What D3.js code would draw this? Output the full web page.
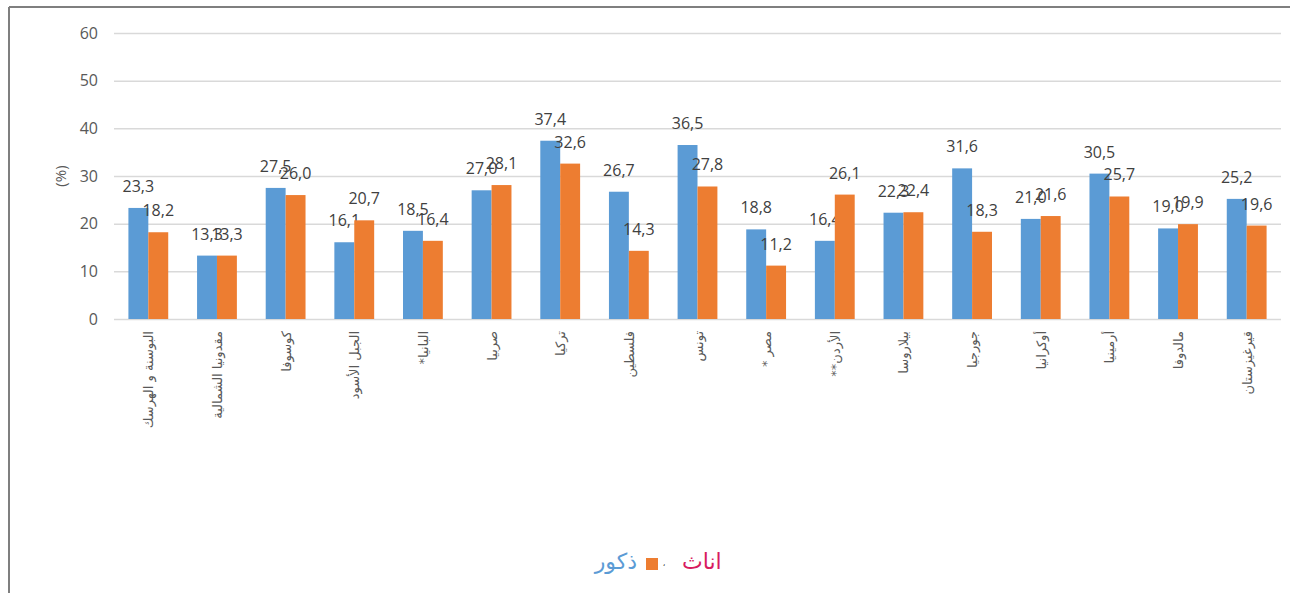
<!DOCTYPE html>
<html>
<head>
<meta charset="utf-8">
<script src="https://cdn.jsdelivr.net/npm/d3@7"></script>
<style>
  body { margin: 0; background: #fff; }
  svg { display: block; }
</style>
</head>
<body>
<script>
// chart data
var countries = ["البوسنة و الهرسك", "مقدونيا الشمالية", "كوسوفا", "الجبل الأسود", "البانيا*", "صربيا",
                 "تركيا", "فلسطين", "تونس", "مصر *", "الأردن**", "بيلاروسا", "جورجيا", "أوكرانيا",
                 "أرمينيا", "مالدوفا", "قيرغيزستان"];
var males   = [23.3, 13.3, 27.5, 16.1, 18.5, 27.0, 37.4, 26.7, 36.5, 18.8, 16.4, 22.3, 31.6, 21.0, 30.5, 19.0, 25.2];
var females = [18.2, 13.3, 26.0, 20.7, 16.4, 28.1, 32.6, 14.3, 27.8, 11.2, 26.1, 22.4, 18.3, 21.6, 25.7, 19.9, 19.6];
var yTicks  = [0, 10, 20, 30, 40, 50, 60];

var W = 1290, H = 593;
var plotLeft = 114, plotRight = 1281, plotTop = 33, plotBottom = 319;

var svg = d3.select("body").append("svg")
            .attr("width", W)
            .attr("height", H);

// frame (only top and left edges visible)
svg.append("line").attr("x1", 9).attr("x2", W).attr("y1", 7).attr("y2", 7)
   .style("stroke", "#7f7f7f").attr("stroke-width", 2);
svg.append("line").attr("x1", 9).attr("x2", 9).attr("y1", 7).attr("y2", H)
   .style("stroke", "#7f7f7f").attr("stroke-width", 2);

var x = d3.scaleBand().domain(countries).range([plotLeft, plotRight]).paddingInner(0.42).paddingOuter(0.21);
var y = d3.scaleLinear().domain([0, 60]).range([plotBottom, plotTop]);

// gridlines + tick labels
var yAxis = svg.append("g")
               .attr("transform", "translate(" + plotLeft + ",0)")
               .call(d3.axisLeft(y).tickValues(yTicks).tickSize(-(plotRight - plotLeft)).tickPadding(16));
yAxis.select(".domain").remove();
yAxis.selectAll(".tick line").style("stroke", "#d9d9d9").attr("stroke-width", 1.5);
yAxis.selectAll(".tick text")
     .attr("font-family", "'Open Sans', sans-serif")
     .attr("font-size", 16)
     .style("fill", "#595959");

svg.append("text")
   .attr("transform", "translate(66,176) rotate(-90)")
   .attr("font-family", "'Open Sans', sans-serif")
   .attr("font-size", 15)
   .style("fill", "#595959")
   .style("text-anchor", "middle")
   .text("(%)");

var bw = x.bandwidth() / 2;
var fmt = function (v) { return v.toFixed(1).replace(".", ","); };

var series = [
    {vals: males, color: "#5b9bd5", off: 0},
    {vals: females, color: "#ed7d31", off: bw}
];

series.forEach(function (s) {
    var g = svg.append("g");
    g.selectAll("rect")
     .data(countries)
     .enter().append("rect")
     .attr("x", function (d) { return x(d) + s.off; })
     .attr("y", function (d, i) { return y(s.vals[i]); })
     .attr("width", bw)
     .attr("height", function (d, i) { return y(0) - y(s.vals[i]); })
     .style("fill", s.color);

    g.selectAll("text")
     .data(countries)
     .enter().append("text")
     .attr("x", function (d) { return x(d) + s.off + bw / 2; })
     .attr("y", function (d, i) { return y(s.vals[i]) - 16; })
     .attr("font-family", "'Open Sans', sans-serif")
     .attr("font-size", 16)
     .style("fill", "#404040")
     .style("text-anchor", "middle")
     .text(function (d, i) { return fmt(s.vals[i]); });
});

// category labels, rotated, right-to-left
svg.append("g").selectAll("text")
   .data(countries)
   .enter().append("text")
   .attr("transform", function (d) {
       return "translate(" + (x(d) + x.bandwidth() / 2 + 5) + ",331) rotate(-90)";
   })
   .attr("direction", "rtl")
   .attr("font-family", "'DejaVu Sans', sans-serif")
   .attr("font-size", 13)
   .style("fill", "#595959")
   .style("text-anchor", "start")
   .text(function (d) { return d; });

// legend
var legend = svg.append("g").attr("font-family", "'DejaVu Sans', sans-serif");
legend.append("text")
      .attr("x", 637).attr("y", 569)
      .attr("font-size", 22)
      .style("fill", "#5b9bd5")
      .style("text-anchor", "end")
      .text("ذكور");
legend.append("rect")
      .attr("x", 646).attr("y", 558)
      .attr("width", 12).attr("height", 12)
      .style("fill", "#ed7d31");
legend.append("text")
      .attr("x", 664).attr("y", 566)
      .attr("font-size", 8)
      .style("fill", "#404040")
      .style("text-anchor", "middle")
      .text("،");
legend.append("text")
      .attr("x", 682).attr("y", 569)
      .attr("font-size", 22)
      .style("fill", "#d81b60")
      .style("text-anchor", "start")
      .text("اناث");
</script>
</body>
</html>
